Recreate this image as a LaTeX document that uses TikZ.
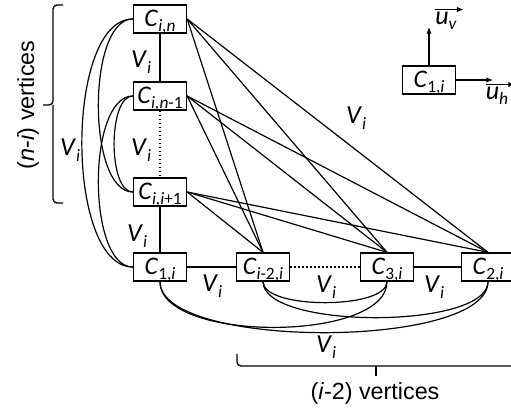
\documentclass[tikz,border=0pt]{standalone}
\usepackage{fontspec}
\setmainfont{Carlito}
\newfontfamily\arialf{Liberation Sans}
\usetikzlibrary{arrows.meta}
\newcommand\sbs[2][-3.5pt]{\raisebox{#1}{\fontsize{13}{13}\selectfont #2}}
\newcommand\cc[1]{\textit{C}\sbs{#1}}
\newcommand\vi{\textit{V}\sbs[-4.5pt]{\textit{i}}}
\begin{document}
\begin{tikzpicture}[x=0.75pt,y=-0.75pt,
  vbox/.style={draw, line width=1pt, minimum width=39.75pt, minimum height=21pt, inner sep=0pt, text height=14pt, text depth=2.8pt, font=\fontsize{19}{21}\selectfont},
  lbl/.style={inner sep=0pt, font=\fontsize{19.5}{22}\selectfont},
  blbl/.style={inner sep=0pt, font=\arialf\fontsize{17.5}{20}\selectfont},
  edge/.style={line width=0.9pt},
  dotline/.style={line width=1pt, dotted},
  vec/.style={line width=0.9pt, -{Latex[length=5pt,width=4pt]}},
  brc/.style={line width=1pt, rounded corners=3pt}]
\useasboundingbox (0,0) rectangle (511,410);
% nodes
\node[vbox] (cn)  at (160,19)  {\cc{\textit{i,n}}};
\node[vbox] (cn1) at (160,96)  {\cc{\textit{i,n}-1}};
\node[vbox] (ci1) at (160,192) {\cc{\textit{i,i}+1}};
\node[vbox] (c1)  at (160,267) {\cc{1,\textit{i}}};
\node[vbox] (cm)  at (263,267) {\cc{\textit{i}-2,\textit{i}}};
\node[vbox] (c3)  at (387,267) {\cc{3,\textit{i}}};
\node[vbox] (c2)  at (488,267) {\cc{2,\textit{i}}};
\node[vbox] (leg) at (429,80)  {\cc{1,\textit{i}}};
% straight edges
\draw[edge] (cn) -- (cn1);
\draw[dotline] (cn1) -- (ci1);
\draw[edge] (ci1) -- (c1);
\draw[edge] (c1) -- (cm);
\draw[dotline] (cm) -- (c3);
\draw[edge] (c3) -- (c2);
\foreach \t in {cn,cn1,ci1}{
  \foreach \b in {cm,c3,c2}{
    \draw[edge] (\t.east) -- (\b.north);
  }
}
% left curves
\draw[edge] (cn.west) .. controls +(-68,0) and +(-68,0) .. (c1.west);
\draw[edge] (cn.west) .. controls +(-46,0) and +(-46,0) .. (ci1.west);
\draw[edge] (cn1.west) .. controls +(-25,0) and +(-25,0) .. (ci1.west);
\draw[edge] (cn1.west) .. controls +(-46,0) and +(-46,0) .. (c1.west);
% bottom curves
\draw[edge] (c1.south) .. controls +(0,61) and +(0,61) .. (c3.south);
\draw[edge] (c1.south) .. controls +(0,68) and +(0,68) .. (c2.south);
\draw[edge] (cm.south) .. controls +(0,28) and +(0,28) .. (c3.south);
\draw[edge] (cm.south) .. controls +(0,48) and +(0,48) .. (c2.south);
% V_i labels
\node[lbl] (v1) at (141,62)  {\vi};
\node[lbl] (v2) at (141,150) {\vi};
\node[lbl] (v3) at (70,150)  {\vi};
\node[lbl] (v4) at (137,236) {\vi};
\node[lbl] (v5) at (212,286) {\vi};
\node[lbl] (v6) at (326,287) {\vi};
\node[lbl] (v7) at (434,287) {\vi};
\node[lbl] (v8) at (326,347) {\vi};
\node[lbl] (v9) at (356,118) {\vi};
% legend
\coordinate (uvtip) at (429,27);
\coordinate (uhtip) at (493,80);
\draw[vec] (leg.north) -- (uvtip);
\draw[vec] (leg.east) -- (uhtip);
\node[lbl] (uv) at (446,21) {\textit{u}\sbs{\textit{v}}};
\node[lbl] (uh) at (497,96) {\textit{u}\sbs{\textit{h}}};
\draw[vec] ([yshift=2pt]uv.north west) -- ([xshift=5pt,yshift=2pt]uv.north east);
\draw[vec] ([yshift=2pt]uh.north west) -- ([xshift=5pt,yshift=2pt]uh.north east);
% braces
\draw[brc] (63,5) -- (53,5) -- (53,105) -- (43,105);
\draw[brc] (53,105) -- (53,203) -- (63,203);
\draw[brc] (237,354) -- (237,366) -- (520,366);
\draw[brc] (376,366) -- (376,376);
\node[blbl, rotate=90] (bl) at (28,105) {(\textit{n}-\textit{i}) vertices};
\node[blbl] (bb) at (375,393) {(\textit{i}-2) vertices};
\end{tikzpicture}
\end{document}
